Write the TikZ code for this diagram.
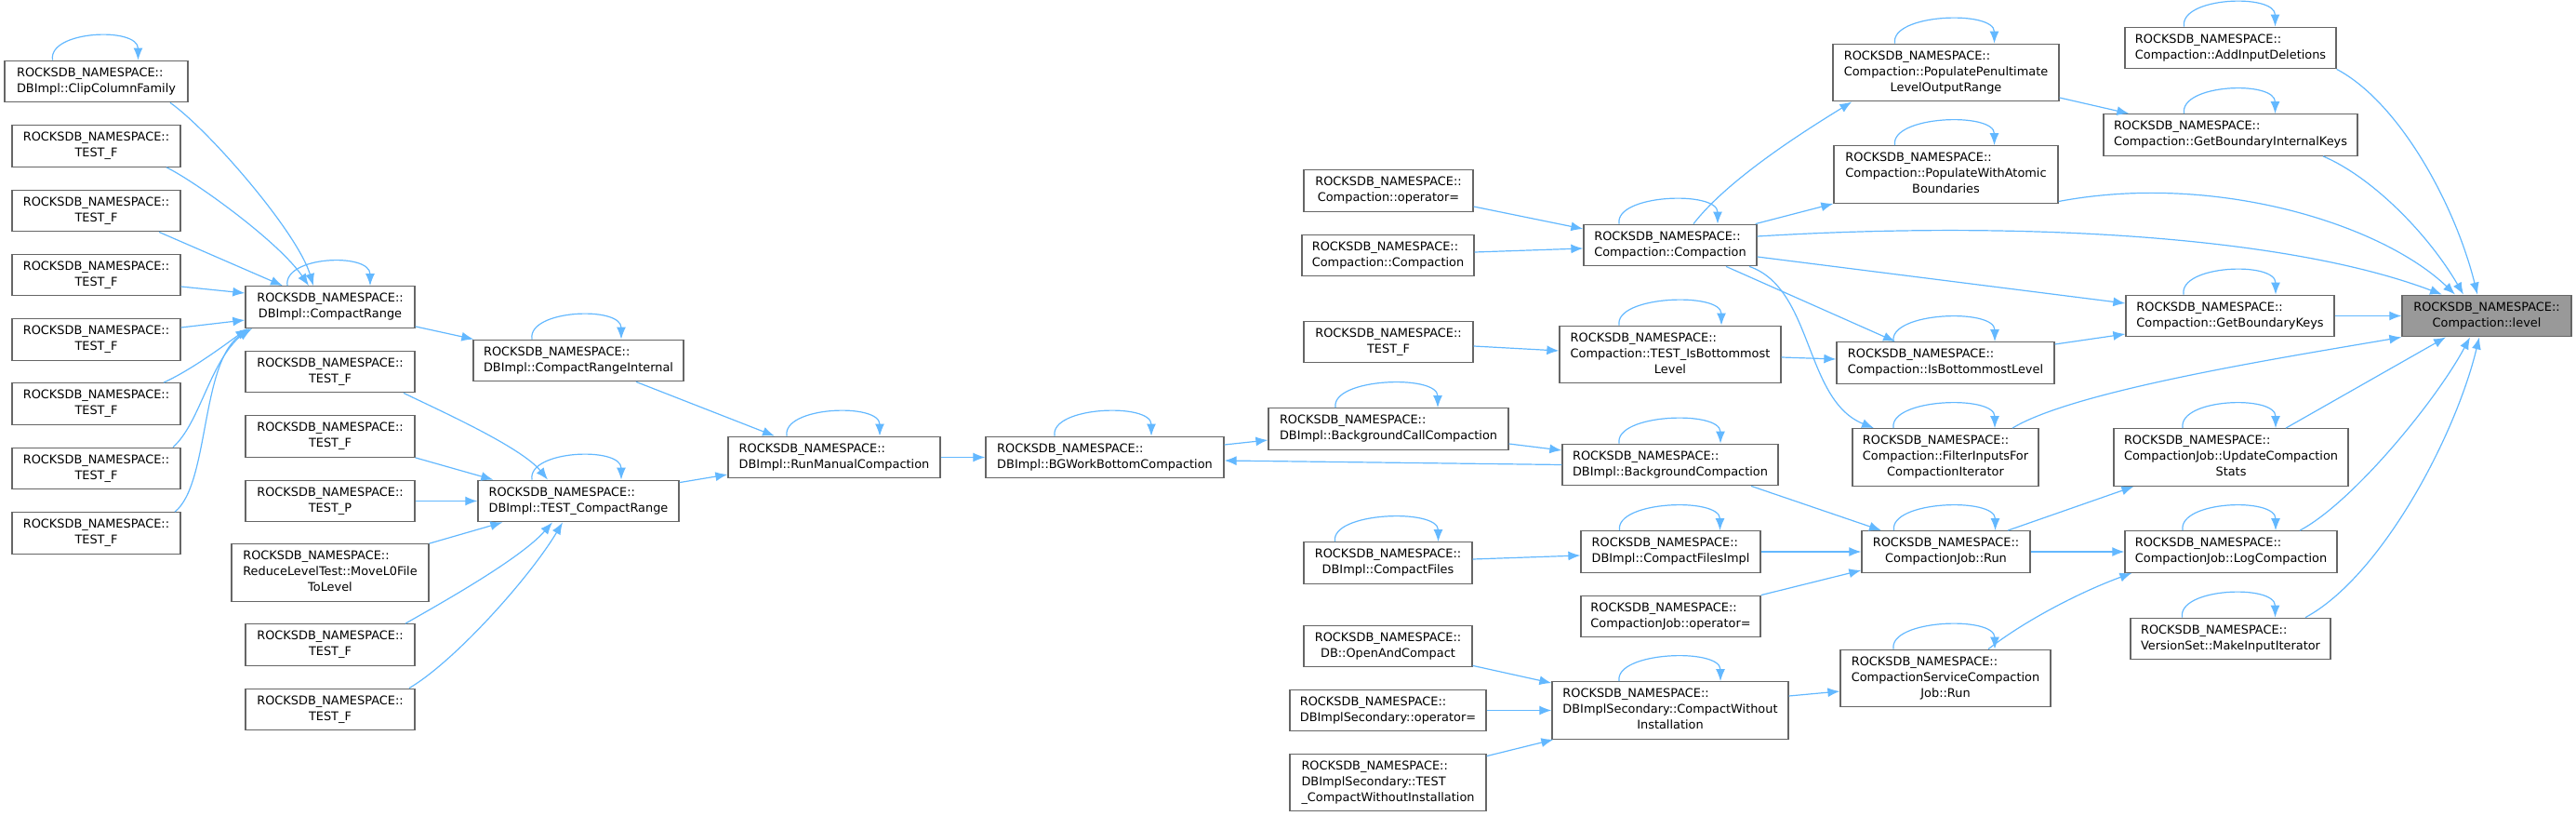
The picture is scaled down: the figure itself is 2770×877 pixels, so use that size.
\documentclass[tikz,border=0pt]{standalone}
\usepackage{fontspec}
\setmainfont{DejaVu Sans}
\usetikzlibrary{arrows.meta}
\definecolor{callblue}{HTML}{63B8FF}
\definecolor{boxgray}{HTML}{666666}
\definecolor{curgray}{HTML}{999999}
% node labels: first lines left, last line centred
\newcommand{\twol}[1]{\begin{tabular}{@{}l@{}}ROCKSDB\_NAMESPACE::\\\multicolumn{1}{@{}c@{}}{#1}\end{tabular}}
\newcommand{\threel}[2]{\begin{tabular}{@{}l@{}}ROCKSDB\_NAMESPACE::\\#1\\\multicolumn{1}{@{}c@{}}{#2}\end{tabular}}
\newcommand{\selfcall}[3]{\draw[callarr] ([xshift=#2pt]#1.north) .. controls +(-5,-32) and +(0,-36) .. ([xshift=#3pt]#1.north);}
\begin{document}
\begin{tikzpicture}[x=1pt,y=-1pt,
  fn/.style={draw=boxgray, line width=1.3pt, fill=white, inner sep=0pt, minimum height=44.5pt, font=\fontsize{12.9}{17}\selectfont},
  tall/.style={minimum height=61.5pt},
  callarr/.style={->, draw=callblue, line width=1.2pt},
  >={Latex[length=13pt,width=10pt]}]
\useasboundingbox (0,0) rectangle (2770,877);

\node[fn, minimum width=197pt] (clip) at (103.5,87.5) {\twol{DBImpl::ClipColumnFamily}};
\node[fn, minimum width=181pt] (tfa1) at (103.5,157) {\twol{TEST\_F}};
\node[fn, minimum width=181pt] (tfa2) at (103.5,226.5) {\twol{TEST\_F}};
\node[fn, minimum width=181pt] (tfa3) at (103.5,295.5) {\twol{TEST\_F}};
\node[fn, minimum width=181pt] (tfa4) at (103.5,365) {\twol{TEST\_F}};
\node[fn, minimum width=181pt] (tfa5) at (103.5,434) {\twol{TEST\_F}};
\node[fn, minimum width=181pt] (tfa6) at (103.5,503.5) {\twol{TEST\_F}};
\node[fn, minimum width=181pt] (tfa7) at (103.5,573) {\twol{TEST\_F}};

\node[fn, minimum width=182pt] (cr) at (355,330) {\twol{DBImpl::CompactRange}};
\node[fn, minimum width=182pt] (tfb1) at (355,399.5) {\twol{TEST\_F}};
\node[fn, minimum width=182pt] (tfb2) at (355,469) {\twol{TEST\_F}};
\node[fn, minimum width=182pt] (tsp) at (355,538.5) {\twol{TEST\_P}};
\node[fn, tall, minimum width=212pt] (rlt) at (355,615.5) {\threel{ReduceLevelTest::MoveL0File}{ToLevel}};
\node[fn, minimum width=182pt] (tfb3) at (355,693) {\twol{TEST\_F}};
\node[fn, minimum width=182pt] (tfb4) at (355,762.5) {\twol{TEST\_F}};

\node[fn, minimum width=226pt] (cri) at (622,387.5) {\twol{DBImpl::CompactRangeInternal}};
\node[fn, minimum width=216pt] (tcr) at (622,538.5) {\twol{DBImpl::TEST\_CompactRange}};
\node[fn, minimum width=228pt] (rmc) at (897,491.5) {\twol{DBImpl::RunManualCompaction}};
\node[fn, minimum width=256pt] (bgw) at (1188,491.5) {\twol{DBImpl::BGWorkBottomCompaction}};

\node[fn, minimum width=182pt] (cop) at (1493,205) {\twol{Compaction::operator=}};
\node[fn, minimum width=185pt] (ccl) at (1492.5,274.5) {\twol{Compaction::Compaction}};
\node[fn, minimum width=182pt] (tfc) at (1493,367.5) {\twol{TEST\_F}};
\node[fn, minimum width=258pt] (bcc) at (1493,461) {\twol{DBImpl::BackgroundCallCompaction}};
\node[fn, minimum width=181pt] (cf) at (1492.5,605) {\twol{DBImpl::CompactFiles}};
\node[fn, minimum width=181pt] (oac) at (1492.5,694.5) {\twol{DB::OpenAndCompact}};
\node[fn, minimum width=211pt] (dso) at (1492.5,763.5) {\twol{DBImplSecondary::operator=}};
\node[fn, tall, minimum width=211pt] (dst) at (1492.5,841) {\threel{DBImplSecondary::TEST}{\_CompactWithoutInstallation}};

\node[fn, minimum width=186pt] (cc) at (1796,263.5) {\twol{Compaction::Compaction}};
\node[fn, tall, minimum width=238pt] (tib) at (1796,381) {\threel{Compaction::TEST\_IsBottommost}{Level}};
\node[fn, minimum width=232pt] (bc) at (1796,499.5) {\twol{DBImpl::BackgroundCompaction}};
\node[fn, minimum width=193pt] (cfi) at (1796.5,593) {\twol{DBImpl::CompactFilesImpl}};
\node[fn, minimum width=193pt] (cjo) at (1796.5,662.5) {\twol{CompactionJob::operator=}};
\node[fn, tall, minimum width=254pt] (cwi) at (1796,763.5) {\threel{DBImplSecondary::CompactWithout}{Installation}};

\node[fn, tall, minimum width=243pt] (ppl) at (2092.5,78) {\threel{Compaction::PopulatePenultimate}{LevelOutputRange}};
\node[fn, tall, minimum width=241pt] (pwa) at (2092.5,187.5) {\threel{Compaction::PopulateWithAtomic}{Boundaries}};
\node[fn, minimum width=234pt] (ibl) at (2092,390) {\twol{Compaction::IsBottommostLevel}};
\node[fn, tall, minimum width=200pt] (fif) at (2092,491.5) {\threel{Compaction::FilterInputsFor}{CompactionIterator}};
\node[fn, minimum width=181pt] (cjr) at (2092.5,593) {\twol{CompactionJob::Run}};
\node[fn, tall, minimum width=226pt] (csr) at (2092,729) {\threel{CompactionServiceCompaction}{Job::Run}};

\node[fn, minimum width=227pt] (aid) at (2398.5,51.5) {\twol{Compaction::AddInputDeletions}};
\node[fn, minimum width=273pt] (gbi) at (2398.5,145) {\twol{Compaction::GetBoundaryInternalKeys}};
\node[fn, minimum width=224pt] (gbk) at (2398,339.5) {\twol{Compaction::GetBoundaryKeys}};
\node[fn, tall, minimum width=252pt] (ucs) at (2399,491.5) {\threel{CompactionJob::UpdateCompaction}{Stats}};
\node[fn, minimum width=228pt] (lc) at (2399,593) {\twol{CompactionJob::LogCompaction}};
\node[fn, minimum width=215pt] (mii) at (2398.5,686.5) {\twol{VersionSet::MakeInputIterator}};

\node[fn, fill=curgray, minimum width=182pt] (lvl) at (2674,339.5) {\twol{Compaction::level}};

% callers of CompactRange
\draw[callarr] ([xshift=79.5pt]clip.south) .. controls (225,140) and (320,250) .. ([xshift=-18pt]cr.north);
\draw[callarr] ([xshift=75.5pt]tfa1.south) .. controls (210,195) and (300,260) .. ([xshift=-23pt]cr.north);
\draw[callarr] ([xshift=67.5pt]tfa2.south) -- ([xshift=-51pt]cr.north);
\draw[callarr] ([yshift=-12.5pt]tfa3.east) -- ([yshift=15pt]cr.west);
\draw[callarr] ([yshift=13pt]tfa4.east) -- ([yshift=-14pt]cr.west);
\draw[callarr] ([xshift=72.5pt]tfa5.north) .. controls (205,398) and (240,372) .. ([xshift=3pt]cr.south west);
\draw[callarr] ([xshift=82.5pt]tfa6.north) .. controls (215,455) and (225,390) .. ([xshift=5pt]cr.south west);
\draw[callarr] ([xshift=84.5pt]tfa7.north) .. controls (226,520) and (215,385) .. ([xshift=8pt]cr.south west);
\draw[callarr] ([yshift=2pt]cr.south east) -- ([xshift=1pt]cri.north west);
\draw[callarr] ([xshift=62pt]cri.south) -- ([xshift=-64pt]rmc.north);

% callers of TEST_CompactRange
\draw[callarr] ([xshift=79pt]tfb1.south) .. controls (470,440) and (560,480) .. ([xshift=-33pt]tcr.north);
\draw[callarr] (tfb2.south east) -- ([xshift=17pt]tcr.north west);
\draw[callarr] (tsp.east) -- (tcr.west);
\draw[callarr] (rlt.north east) -- ([xshift=27pt]tcr.south west);
\draw[callarr] ([xshift=81pt]tfb3.north) .. controls (480,645) and (560,600) .. ([xshift=-28pt]tcr.south);
\draw[callarr] ([xshift=85pt]tfb4.north) .. controls (490,710) and (570,620) .. ([xshift=-17pt]tcr.south);
\draw[callarr] ([yshift=-3pt]tcr.north east) -- ([yshift=-18.5pt]rmc.west);

\draw[callarr] (rmc.east) -- (bgw.west);
\draw[callarr] ([yshift=13.5pt]bgw.east) -- ([yshift=-12pt]bcc.west);
\draw[callarr] ([yshift=-16pt]bcc.east) -- ([yshift=15.5pt]bc.west);
\draw[callarr] (bc.west) -- ([yshift=-3.5pt]bgw.east);
\draw[callarr] ([xshift=87pt]bc.south) -- ([xshift=-69.5pt]cjr.north);

% Compaction::Compaction
\draw[callarr] ([yshift=-17pt]cop.east) -- ([yshift=17.5pt]cc.west);
\draw[callarr] ([yshift=3.5pt]ccl.east) -- ([yshift=-3.5pt]cc.west);
\draw[callarr] ([xshift=25pt]cc.north) .. controls (1860,190) and (1950,135) .. ([xshift=21pt]ppl.south west);
\draw[callarr] ([xshift=-2pt]cc.north east) -- (pwa.south west);
\draw[callarr] ([yshift=9.5pt]cc.east) .. controls (2150,238) and (2450,250) .. ([xshift=-48pt]lvl.north);
\draw[callarr] ([yshift=-12.5pt]cc.east) -- ([yshift=13.5pt]gbk.west);
\draw[callarr] ([xshift=60pt]cc.south) -- ([xshift=-54pt]ibl.north);
\draw[callarr] ([xshift=85pt]cc.south) .. controls (1950,310) and (1940,430) .. ([xshift=-77pt]fif.north);

\draw[callarr] ([yshift=-4.5pt]tfc.east) -- ([yshift=4pt]tib.west);
\draw[callarr] ([yshift=-3pt]tib.east) -- ([yshift=4pt]ibl.west);
\draw[callarr] ([yshift=20pt]ibl.east) -- ([yshift=-19.5pt]gbk.west);
\draw[callarr] ([yshift=-27pt]ppl.east) -- ([xshift=28pt]gbi.north west);
\draw[callarr] (gbk.east) -- (lvl.west);

% into Compaction::level
\draw[callarr] ([yshift=-29pt]pwa.east) .. controls (2380,185) and (2560,240) .. ([xshift=-34pt]lvl.north);
\draw[callarr] ([xshift=99.5pt]gbi.south) .. controls (2550,190) and (2610,250) .. ([xshift=-25pt]lvl.north);
\draw[callarr] (aid.south east) .. controls (2580,110) and (2640,220) .. ([xshift=-10pt]lvl.north);
\draw[callarr] ([xshift=72pt]fif.north) .. controls (2230,420) and (2450,385) .. (lvl.south west);
\draw[callarr] ([xshift=59pt]ucs.north) -- ([xshift=-44pt]lvl.south);
\draw[callarr] ([xshift=74pt]lc.north) .. controls (2530,540) and (2620,430) .. ([xshift=-18pt]lvl.south);
\draw[callarr] ([xshift=80.5pt]mii.north) .. controls (2560,620) and (2640,470) .. ([xshift=-8pt]lvl.south);

% CompactionJob
\draw[callarr] ([xshift=66.5pt]cjr.north) -- ([xshift=22pt]ucs.south west);
\draw[callarr] (cjr.east) -- (lc.west);
\draw[callarr] ([xshift=46pt]csr.north) .. controls (2180,665) and (2240,635) .. ([xshift=8pt]lc.south west);
\draw[callarr] ([yshift=4pt]cf.east) -- ([yshift=-4pt]cfi.west);
\draw[callarr] (cfi.east) -- (cjr.west);
\draw[callarr] (cjo.north east) -- ([yshift=3pt]cjr.south west);
\draw[callarr] ([yshift=2pt]oac.south east) -- ([yshift=-2pt]cwi.north west);
\draw[callarr] (dso.east) -- (cwi.west);
\draw[callarr] ([yshift=-3pt]dst.north east) -- ([xshift=2pt]cwi.south west);
\draw[callarr] ([yshift=15.5pt]cwi.east) -- ([yshift=-14pt]csr.west);

% recursive calls
\selfcall{clip}{-47}{45}
\selfcall{cr}{-46}{43}
\selfcall{cri}{-50}{46}
\selfcall{tcr}{-50}{46}
\selfcall{rmc}{-51}{49}
\selfcall{bgw}{-54}{50}
\selfcall{bcc}{-57}{53}
\selfcall{cf}{-57}{54}
\selfcall{cc}{-55}{51}
\selfcall{tib}{-55}{55}
\selfcall{bc}{-55}{54}
\selfcall{cfi}{-55}{53}
\selfcall{cwi}{-55}{54}
\selfcall{ppl}{-55}{52}
\selfcall{pwa}{-55}{52}
\selfcall{ibl}{-56}{53}
\selfcall{fif}{-56}{53}
\selfcall{cjr}{-56}{53}
\selfcall{csr}{-56}{53}
\selfcall{aid}{-50}{48}
\selfcall{gbi}{-50}{48}
\selfcall{gbk}{-50}{49}
\selfcall{ucs}{-52}{48}
\selfcall{lc}{-52}{48}
\selfcall{mii}{-52}{48}
\end{tikzpicture}
\end{document}
